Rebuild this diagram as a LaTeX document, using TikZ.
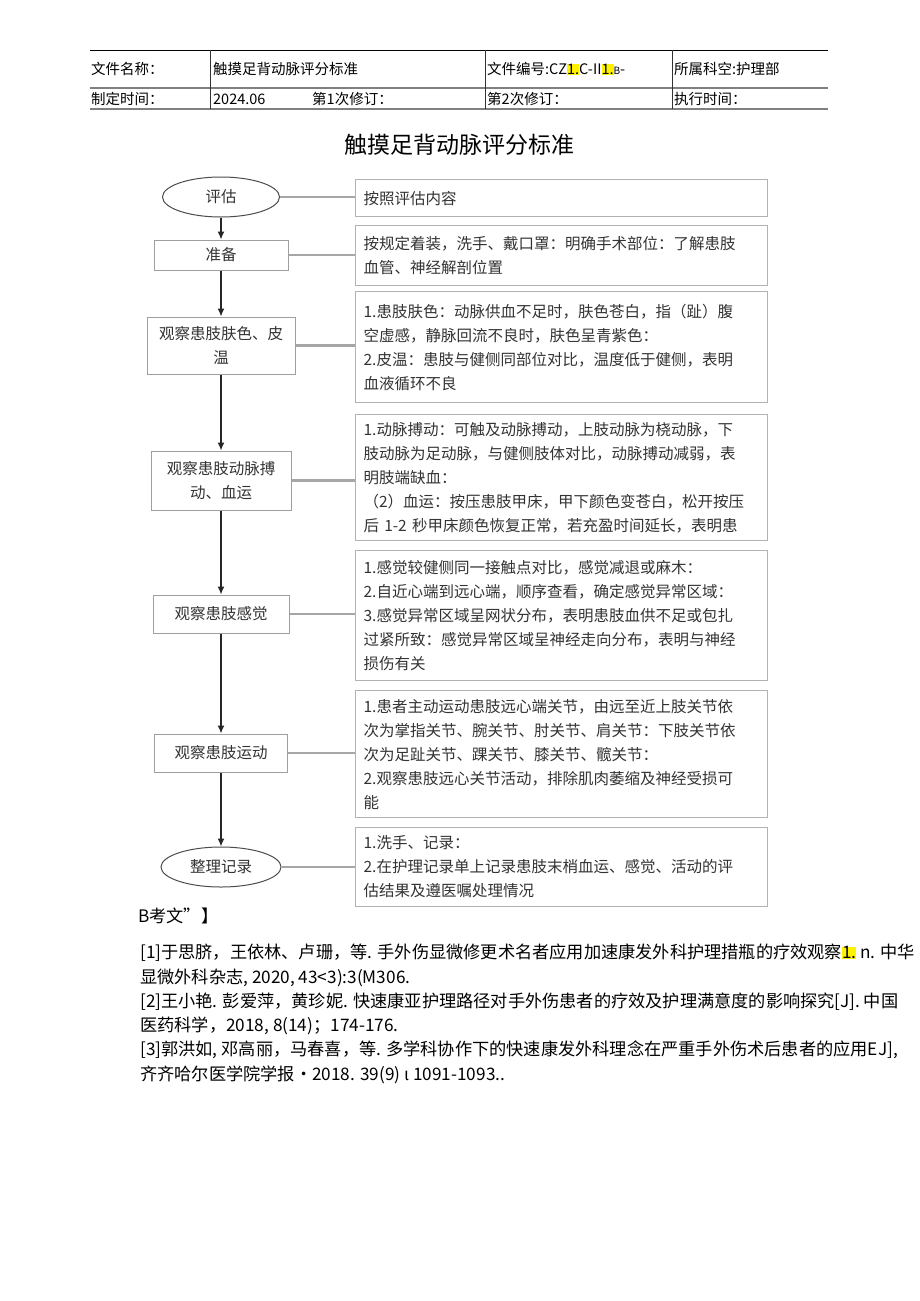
\documentclass[tikz,border=0pt]{standalone}
\usepackage{fontspec}
\setmainfont{Noto Sans CJK SC}
\usetikzlibrary{arrows.meta, positioning, shapes.geometric}
\newcommand{\hlt}[1]{{\setlength{\fboxsep}{0pt}\colorbox{yellow}{#1}}}
\tikzset{
  hdrtext/.style={anchor=west, inner sep=0pt, font=\fontsize{14.5}{14.5}\selectfont},
  steprect/.style={draw=gray!75, line width=1pt, align=center, inner sep=2pt, text=black!80,
    font=\fontsize{15.5}{24}\selectfont},
  stepoval/.style={ellipse, draw=black!70, line width=1pt, inner sep=0pt, text=black!80,
    font=\fontsize{15.5}{24}\selectfont},
  infobox/.style={draw=gray!60, line width=1.2pt, anchor=north west, align=left,
    text width=396pt, inner xsep=8pt, minimum width=412pt, text=black!80,
    font=\fontsize{15.5}{24}\selectfont},
  flow/.style={-{Latex[length=8pt,width=7pt]}, line width=1.3pt, black!85},
  link/.style={draw=gray!70, line width=2.2pt},
  reftext/.style={anchor=west, inner sep=0pt, font=\fontsize{17.2}{17.2}\selectfont}
}
\begin{document}
\begin{tikzpicture}[x=1pt, y=-1pt]
\useasboundingbox[fill=white] (0,0) rectangle (920,1301);
% header table
\draw[black, line width=0.8pt] (90,50) -- (828,50);
\draw[gray, line width=1.6pt] (90,88) -- (828,88);
\draw[gray, line width=1.6pt] (90,109) -- (828,109);
\foreach \xv in {210, 485, 672}
  \draw[black!80, line width=0.8pt] (\xv,50) -- (\xv,109);
\node[hdrtext] (h11) at (91,69) {文件名称：};
\node[hdrtext] (h12) at (213,69) {触摸足背动脉评分标准};
\node[hdrtext] (h13) at (487,69) {文件编号:CZ\hlt{1.}C-II\hlt{1.}{\fontsize{10}{10}\selectfont B}-};
\node[hdrtext] (h14) at (674,69) {所属科空:护理部};
\node[hdrtext] (h21) at (91,99) {制定时间：};
\node[hdrtext] (h22) at (213,99) {2024.06};
\node[hdrtext] (h23) at (312,99) {第1次修订：};
\node[hdrtext] (h24) at (487,99) {第2次修订：};
\node[hdrtext] (h25) at (674,99) {执行时间：};
% title
\node[font=\fontsize{23}{23}\selectfont] (title) at (459,145) {触摸足背动脉评分标准};
% steps
\node[stepoval, minimum width=117pt, minimum height=40pt] (eval) at (221,197) {评估};
\node[steprect, minimum width=134pt, minimum height=30pt] (prep) at (221,255) {准备};
\node[steprect, minimum width=148pt, minimum height=57pt] (skin) at (221,345.5) {观察患肢肤色、皮\\温};
\node[steprect, minimum width=140pt, minimum height=59pt] (pulse) at (221,480.5) {观察患肢动脉搏\\动、血运};
\node[steprect, minimum width=136pt, minimum height=38pt] (sense) at (221,614) {观察患肢感觉};
\node[steprect, minimum width=133pt, minimum height=38pt] (move) at (221,753) {观察患肢运动};
\node[stepoval, minimum width=120pt, minimum height=40pt] (rec) at (221,867) {整理记录};
% notes
\node[infobox, minimum height=37pt] (nEval) at (355,179) {按照评估内容};
\node[infobox, minimum height=60pt] (nPrep) at (355,225) {按规定着装，洗手、戴口罩：明确手术部位：了解患肢\\血管、神经解剖位置};
\node[infobox, minimum height=111pt] (nSkin) at (355,291) {1.患肢肤色：动脉供血不足时，肤色苍白，指（趾）腹\\空虚感，静脉回流不良时，肤色呈青紫色：\\2.皮温：患肢与健侧同部位对比，温度低于健侧，表明\\血液循环不良};
\node[infobox, minimum height=126pt] (nPulse) at (355,414) {1.动脉搏动：可触及动脉搏动，上肢动脉为桡动脉，下\\肢动脉为足动脉，与健侧肢体对比，动脉搏动减弱，表\\明肢端缺血：\\（2）血运：按压患肢甲床，甲下颜色变苍白，松开按压\\后 1-2 秒甲床颜色恢复正常，若充盈时间延长，表明患};
\node[infobox, minimum height=130pt] (nSense) at (355,550) {1.感觉较健侧同一接触点对比，感觉减退或麻木：\\2.自近心端到远心端，顺序查看，确定感觉异常区域：\\3.感觉异常区域呈网状分布，表明患肢血供不足或包扎\\过紧所致：感觉异常区域呈神经走向分布，表明与神经\\损伤有关};
\node[infobox, minimum height=127pt] (nMove) at (355,690) {1.患者主动运动患肢远心端关节，由远至近上肢关节依\\次为掌指关节、腕关节、肘关节、肩关节：下肢关节依\\次为足趾关节、踝关节、膝关节、髋关节：\\2.观察患肢远心关节活动，排除肌肉萎缩及神经受损可\\能};
\node[infobox, minimum height=79pt] (nRec) at (355,827) {1.洗手、记录：\\2.在护理记录单上记录患肢末梢血运、感觉、活动的评\\估结果及遵医嘱处理情况};
% arrows
\draw[flow] (eval) -- (prep);
\draw[flow] (prep) -- (skin);
\draw[flow] (skin) -- (pulse);
\draw[flow] (pulse) -- (sense);
\draw[flow] (sense) -- (move);
\draw[flow] (move) -- (rec);
% links
\foreach \s/\t in {eval/nEval, prep/nPrep, skin/nSkin, pulse/nPulse, sense/nSense, move/nMove, rec/nRec}
  \draw[link] (\s.east) -- (\s.east -| \t.west);
% references
\node[reftext] (refhead) at (138,916) {B考文”】};
\node[reftext] (ref1a) at (140,953) {[1]于思脐，王依林、卢珊，等. 手外伤显微修更术名者应用加速康发外科护理措瓶的疗效观察\hlt{1.} n. 中华};
\node[reftext] (ref1b) at (140,978) {显微外科杂志, 2020, 43<3):3(M306.};
\node[reftext] (ref2a) at (140,1002) {[2]王小艳. 彭爱萍，黄珍妮. 快速康亚护理路径对手外伤患者的疗效及护理满意度的影响探究[J]. 中国};
\node[reftext] (ref2b) at (140,1026) {医药科学，2018, 8(14)；174-176.};
\node[reftext] (ref3a) at (140,1050) {[3]郭洪如, 邓高丽，马春喜，等. 多学科协作下的快速康发外科理念在严重手外伤术后患者的应用EJ],};
\node[reftext] (ref3b) at (140,1075) {齐齐哈尔医学院学报•2018. 39(9) ι 1091-1093..};
\end{tikzpicture}
\end{document}
